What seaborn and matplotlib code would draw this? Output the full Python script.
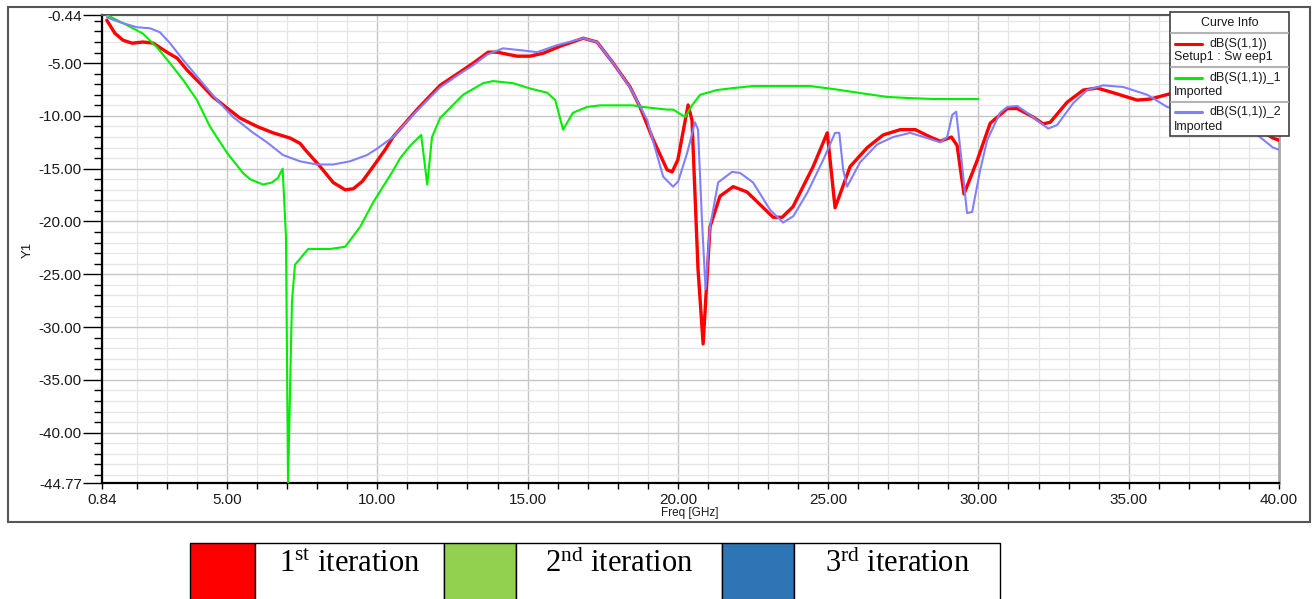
import numpy as np
import pandas as pd
import matplotlib
matplotlib.use("Agg")
import matplotlib.pyplot as plt
from matplotlib.patches import Rectangle
from matplotlib.lines import Line2D
import seaborn as sns

# ---- S11 sweeps (frequency in GHz, magnitude in dB) ----
freq_iter1 = [1.0, 1.27, 1.54, 1.84, 2.2, 2.54, 3.0, 3.34, 3.67, 4.1, 4.53, 5.0, 5.43, 6.0,
              6.53, 7.1, 7.43, 7.6, 8.1, 8.53, 8.93, 9.2, 9.5, 9.86, 10.26, 10.52, 11.32,
              12.09, 12.75, 13.19, 13.69, 13.98, 14.65, 15.08, 15.52, 16.08, 16.85, 17.31,
              17.85, 18.41, 18.74, 19.18, 19.64, 19.81, 20.0, 20.34, 20.47, 20.67, 20.84,
              21.07, 21.4, 21.84, 22.3, 23.17, 23.47, 23.83, 24.5, 24.97, 25.23, 25.73,
              26.3, 26.83, 27.4, 27.9, 28.4, 28.73, 29.1, 29.29, 29.52, 29.96, 30.39,
              30.96, 31.29, 31.82, 32.15, 32.39, 32.95, 33.49, 33.95, 34.48, 35.28, 35.72,
              36.38, 37.3, 38.3, 39.2, 39.8, 40.0]
s11_iter1 = [-0.94, -2.17, -2.83, -3.11, -3.0, -3.1, -3.96, -4.53, -5.66, -6.9, -8.2, -9.25,
             -10.2, -11.0, -11.6, -12.1, -12.6, -13.2, -14.8, -16.3, -17.0, -16.9, -16.2,
             -14.8, -13.2, -12.0, -9.4, -7.1, -5.85, -5.0, -3.96, -3.96, -4.34, -4.34,
             -4.06, -3.4, -2.64, -3.0, -5.0, -7.26, -9.15, -12.26, -15.1, -15.3, -14.15,
             -8.96, -10.4, -24.5, -31.6, -20.5, -17.6, -16.7, -17.2, -19.6, -19.6, -18.6,
             -14.8, -11.6, -18.7, -14.8, -13.0, -11.8, -11.3, -11.3, -12.0, -12.4, -12.0,
             -12.8, -17.4, -14.2, -10.7, -9.3, -9.3, -10.1, -10.75, -10.6, -8.7, -7.55,
             -7.36, -7.8, -8.5, -8.4, -7.9, -8.6, -9.8, -11.0, -12.1, -12.3]

freq_iter2 = [1.0, 1.67, 2.2, 2.67, 3.1, 3.54, 4.0, 4.43, 5.0, 5.53, 5.77, 6.2, 6.5, 6.7,
              6.85, 6.96, 7.03, 7.16, 7.26, 7.7, 8.43, 8.93, 9.43, 9.86, 10.19, 10.52,
              10.76, 11.1, 11.46, 11.66, 11.82, 12.09, 12.85, 13.52, 13.85, 14.52, 15.08,
              15.65, 15.92, 16.18, 16.51, 16.98, 17.41, 18.51, 18.84, 19.64, 19.84, 20.24,
              20.47, 20.74, 21.3, 21.84, 22.5, 24.4, 25.17, 26.06, 26.96, 27.63, 28.5, 30.0]
s11_iter2 = [-0.44, -1.4, -2.2, -3.5, -5.0, -6.6, -8.5, -11.0, -13.5, -15.4, -16.0, -16.5,
             -16.3, -15.85, -15.0, -21.4, -44.77, -27.6, -24.1, -22.6, -22.6, -22.4, -20.5,
             -18.2, -16.7, -15.2, -14.0, -12.8, -11.8, -16.5, -12.0, -10.2, -8.0, -6.9,
             -6.7, -6.9, -7.4, -7.8, -8.5, -11.3, -9.7, -9.15, -9.0, -9.0, -9.15, -9.4,
             -9.4, -10.1, -9.0, -8.0, -7.55, -7.36, -7.17, -7.17, -7.45, -7.83, -8.2, -8.3,
             -8.4, -8.4]

freq_iter3 = [1.0, 1.44, 2.0, 2.44, 2.77, 3.1, 3.54, 4.1, 4.67, 5.2, 5.87, 6.33, 6.86, 7.43,
              7.99, 8.53, 9.09, 9.66, 9.99, 10.52, 11.32, 12.09, 12.75, 13.19, 13.65, 14.18,
              14.85, 15.32, 15.98, 16.85, 17.31, 17.85, 18.41, 18.98, 19.51, 19.84, 20.01,
              20.31, 20.57, 20.67, 20.8, 20.92, 21.07, 21.34, 21.8, 22.07, 22.5, 23.07,
              23.5, 23.84, 24.3, 24.83, 25.23, 25.37, 25.5, 25.63, 26.06, 26.63, 27.16,
              27.73, 28.29, 28.73, 28.96, 29.13, 29.26, 29.46, 29.62, 29.79, 30.06, 30.29,
              30.72, 30.96, 31.29, 31.72, 32.32, 32.62, 33.15, 33.62, 34.15, 34.82, 35.62,
              36.28, 37.3, 38.3, 39.28, 39.8, 40.0]
s11_iter3 = [-0.66, -1.13, -1.6, -1.7, -2.08, -3.1, -4.7, -6.6, -8.5, -10.1, -11.6, -12.5,
             -13.7, -14.3, -14.6, -14.6, -14.3, -13.7, -13.1, -12.0, -9.5, -7.3, -6.0, -5.2,
             -4.2, -3.6, -3.8, -3.96, -3.3, -2.64, -3.0, -5.0, -7.3, -10.4, -15.75, -16.7,
             -16.2, -13.5, -10.6, -11.3, -19.8, -26.4, -20.5, -16.3, -15.3, -15.4, -16.3,
             -18.9, -20.1, -19.5, -17.3, -14.2, -11.6, -11.6, -15.1, -16.7, -14.4, -12.7,
             -12.0, -11.6, -12.1, -12.5, -12.0, -9.9, -9.6, -14.8, -19.2, -19.1, -15.1,
             -12.3, -9.7, -9.15, -9.06, -9.9, -11.2, -10.85, -8.8, -7.55, -7.1, -7.26, -8.0,
             -9.15, -10.0, -10.9, -11.8, -13.0, -13.2]

curve_names = ["dB(S(1,1))", "dB(S(1,1))_1", "dB(S(1,1))_2"]
curve_sources = ["Setup1 : Sw eep1", "Imported", "Imported"]
iteration_labels = [r"1$^{\rm st}$ iteration", r"2$^{\rm nd}$ iteration", r"3$^{\rm rd}$ iteration"]

x_major = [0.84, 5, 10, 15, 20, 25, 30, 35, 40]
y_major = [-0.44, -5, -10, -15, -20, -25, -30, -35, -40, -44.77]
x_lim = (0.84, 40.0)
y_lim = (-44.77, -0.44)

# ---- styling ----
sns.set_style("white")
plt.rcParams["font.family"] = ["Liberation Sans", "DejaVu Sans"]
plt.rcParams["mathtext.fontset"] = "custom"
plt.rcParams["mathtext.rm"] = "Liberation Serif"
plt.rcParams["mathtext.it"] = "Liberation Serif:italic"
plt.rcParams["mathtext.bf"] = "Liberation Serif:bold"

line_colors = ["#ff0000", "#00ee00", "#8080ff"]
line_widths = [2.4, 1.5, 1.5]
swatch_colors = ["#ff0000", "#92d050", "#2e75b6"]

W, H = 1315, 599
fig = plt.figure(figsize=(W / 100, H / 100), dpi=100)


def fx(p):
    return p / W


def fy(p):
    return 1 - p / H


ax = fig.add_axes([fx(102), fy(483), fx(1279) - fx(102), fy(15) - fy(483)])

series = [(freq_iter1, s11_iter1), (freq_iter2, s11_iter2), (freq_iter3, s11_iter3)]
for i, (f, s) in enumerate(series):
    df = pd.DataFrame({"Freq": f, "S11": s})
    sns.lineplot(data=df, x="Freq", y="S11", ax=ax, color=line_colors[i],
                 linewidth=line_widths[i], estimator=None, zorder=3 + i)

ax.set_xlim(*x_lim)
ax.set_ylim(*y_lim)

ax.set_xticks(x_major)
ax.set_xticklabels([f"{v:.2f}" for v in x_major])
ax.set_xticks([v for v in range(2, 40) if v % 5 != 0], minor=True)
ax.set_yticks(y_major)
ax.set_yticklabels([f"{v:.2f}" for v in y_major])
ax.set_yticks([-v for v in range(1, 45) if v % 5 != 0], minor=True)

ax.set_axisbelow(True)
ax.grid(which="major", color="#c6c6c6", linewidth=1.0)
ax.grid(which="minor", color="#e6e6e6", linewidth=0.9)

ax.tick_params(axis="both", which="both", bottom=True, left=True, direction="out",
               color="black", width=1.0, labelcolor="#1a1a1a")
ax.tick_params(axis="y", which="major", length=13.5, pad=1, labelsize=11)
ax.tick_params(axis="y", which="minor", length=6)
ax.tick_params(axis="x", which="both", length=4.5, pad=2.5, labelsize=11)

for side in ["left", "bottom"]:
    ax.spines[side].set_color("black")
    ax.spines[side].set_linewidth(1.6)
ax.spines["top"].set_color("#555555")
ax.spines["top"].set_linewidth(1.5)
ax.spines["right"].set_color("#a8a8a8")
ax.spines["right"].set_linewidth(2.0)

ax.set_xlabel("Freq [GHz]", fontsize=8.5, color="#1a1a1a", va="center")
ax.xaxis.set_label_coords((690 - 102) / 1177, -(513 - 483) / 468)
ax.set_ylabel("Y1", fontsize=9.5, color="#1a1a1a", va="center")
ax.yaxis.set_label_coords(-(102 - 28) / 1177, (483 - 250) / 468)

# outer plot frame
fig.add_artist(Rectangle((fx(8), fy(522)), fx(1310) - fx(8), fy(7) - fy(522),
                         transform=fig.transFigure, fill=False, edgecolor="#555555",
                         linewidth=1.5, zorder=1))

# ---- "Curve Info" box ----
bx0, bx1, by0, by1 = 1170, 1289, 12, 136
fig.add_artist(Rectangle((fx(bx0), fy(by1)), fx(bx1) - fx(bx0), fy(by0) - fy(by1),
                         transform=fig.transFigure, facecolor="white", edgecolor="#404040",
                         linewidth=1.2, zorder=10))
fig.text(fx((bx0 + bx1) / 2), fy(23), "Curve Info", ha="center", va="center",
         fontsize=9, color="#1a1a1a", zorder=11)
for sy in [33, 67, 102]:
    fig.add_artist(Line2D([fx(bx0 + 1), fx(bx1 - 1)], [fy(sy), fy(sy)],
                          transform=fig.transFigure, color="#b4b4b4", linewidth=1.5, zorder=11))
entry_rows = [(44, 57), (78, 92), (112, 127)]
for i, (ly, sy2) in enumerate(entry_rows):
    fig.add_artist(Line2D([fx(1175), fx(1202)], [fy(ly), fy(ly)], transform=fig.transFigure,
                          color=line_colors[i], linewidth=2.2, zorder=11))
    fig.text(fx(1210), fy(ly), curve_names[i], ha="left", va="center", fontsize=9,
             color="#1a1a1a", zorder=11)
    fig.text(fx(1174), fy(sy2), curve_sources[i], ha="left", va="center", fontsize=9,
             color="#1a1a1a", zorder=11)

# ---- iteration key below the chart ----
cells = [(190, 255, swatch_colors[0]), (255, 444, None),
         (444, 516, swatch_colors[1]), (516, 722, None),
         (722, 794, swatch_colors[2]), (794, 1000, None)]
cy0, cy1 = 543, 600
for k, (c0, c1, col) in enumerate(cells):
    fig.add_artist(Rectangle((fx(c0), fy(cy1)), fx(c1) - fx(c0), fy(cy0) - fy(cy1),
                             transform=fig.transFigure,
                             facecolor=col if col else "white", edgecolor="black",
                             linewidth=1.0, zorder=2))
    if col is None:
        fig.text(fx((c0 + c1) / 2), fy(564), iteration_labels[k // 2], ha="center",
                 va="center", fontsize=22, family=["Liberation Serif", "DejaVu Serif"],
                 color="black", zorder=3)

fig.savefig("out.png", dpi=100, facecolor="white")
